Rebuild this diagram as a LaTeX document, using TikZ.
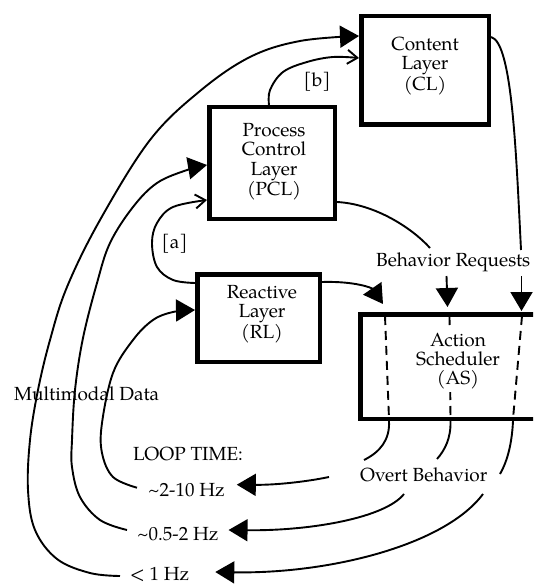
\documentclass[tikz,border=0pt]{standalone}
\usepackage{fontspec}
\setmainfont{TeX Gyre Pagella}
\usetikzlibrary{arrows.meta,calc}
\newcommand{\diagfont}{\fontsize{19}{19.3}\selectfont}
\begin{document}
\begin{tikzpicture}[x=1pt,y=-1pt,
  layer/.style={draw,line width=4.5pt,inner sep=0pt},
  blocktext/.style={inner sep=0pt,font=\diagfont,align=center},
  lbl/.style={inner sep=0pt,font=\diagfont},
  wire/.style={line width=1.9pt},
  big/.style={wire,-{Triangle[length=19pt,width=22pt]}},
  barb/.style={wire,-{Straight Barb[length=10pt,width=14pt]}},
  through/.style={wire,dash pattern=on 9pt off 6pt},
]
\useasboundingbox (0,0) rectangle (533,585);
\fill[white] (0,0) rectangle (533,585);
\clip (0,0) rectangle (533,585);

% layer boxes
\node[layer,minimum width=127.5pt,minimum height=108.5pt] (CL) at (425,70.5) {};
\node[layer,minimum width=125.5pt,minimum height=111.5pt] (PCL) at (272,163) {};
\node[layer,minimum width=122.5pt,minimum height=87.5pt] (RL) at (258.5,318) {};
\node[layer,minimum width=197.5pt,minimum height=104.5pt] (AS) at (459,366.5) {};

\node[blocktext] (CLt) at (425,66) {Content\\Layer\\(CL)};
\node[blocktext] (PCLt) at (274,162) {Process\\Control\\Layer\\(PCL)};
\node[blocktext] (RLt) at (262,314) {Reactive\\Layer\\(RL)};

% free labels
\node[lbl,anchor=base west] (BR) at (376,266) {Behavior Requests};
\node[lbl,anchor=base west] (MD) at (14,400.7) {Multimodal Data};
\node[lbl,anchor=base west] (LT) at (133,460) {LOOP TIME:};
\node[lbl,anchor=base west] (t1) at (148,496.7) {\textasciitilde2-10 Hz};
\node[lbl,anchor=base west] (t2) at (137,540) {\textasciitilde0.5-2 Hz};
\node[lbl,anchor=base west] (t3) at (130,580) {< 1 Hz};
\node[lbl,anchor=base west] (OB) at (360,481.3) {Overt Behavior};
\node[lbl] (la) at (174.5,243.5) {[a]};
\node[lbl] (lb) at (317,82) {[b]};

% end points of the feedback loops
\coordinate (o1) at ($(t1.base west)+(-11,-9)$);
\coordinate (o2) at ($(t2.base west)+(-10,-10)$);
\coordinate (o3) at ($(t3.base west)+(-10,-4)$);
\coordinate (i1) at ($(t1.base east)+(12,-12)$);
\coordinate (i2) at ($(t2.base east)+(10,-10)$);
\coordinate (i3) at ($(t3.base east)+(26,-8)$);

% sensing loops back into the layers
\draw[big] plot[smooth,tension=0.6] coordinates {(o3) (90,573) (57,559) (35,530) (28,490) (30,440) (38,390) (50,340) (67,287) (100,220) (150,140) (200,91) (250,57) (300,41) ($(CL.north west)+(0,22)$)};
\draw[big] plot[smooth,tension=0.6] coordinates {(o2) (100,520) (80,497) (72,467) (72,440) (75,390) (83,338) (97,283) (110,243) (133,207) (157,183) (187,170) ($(PCL.west)+(0,2)$)};
\draw[big] plot[smooth,tension=0.6] coordinates {(o1) (113,477) (102,453) (102,423) (113,373) (133,340) (153,320) (173,312) ($(RL.north west)+(0,38)$)};

% [a] and [b]
\draw[barb] plot[smooth,tension=0.6] coordinates {($(RL.north west)+(0,11)$) (173,280) (157,267) (152,243) (157,223) (173,207) ($(PCL.south west)+(0,-21)$)};
\draw[barb] plot[smooth,tension=0.6] coordinates {($(PCL.north)+(-3,0)$) (270,90) (283,72) (307,62) (333,57) ($(CL.north west)+(0,44)$)};

% behavior requests
\coordinate (rq1) at (430,248);
\coordinate (rq2) at (521,250);
\draw[wire] ($(CL.north east)+(0,23)$) .. controls (512,42) and (516,150) .. (rq2);
\draw[wire] ($(PCL.south east)+(0,-19)$) .. controls (375,204) and (412,228) .. (rq1);
\draw[big] ($(RL.north east)+(0,10)$) .. controls (355,281) and (372,288) .. (383,304);
\draw[big] (446.5,276) -- (447.5,307);
\draw[big] (521.5,276) -- (521.5,311);

% paths through the scheduler
\draw[through] ($(AS.north west)+(27,4)$) -- ($(AS.south west)+(31,-2)$);
\draw[through] ($(AS.north west)+(91.5,4)$) -- ($(AS.south west)+(92.5,-2)$);
\draw[through] ($(AS.north west)+(164,4)$) -- ($(AS.south west)+(155,-2)$);
\node[blocktext,fill=white,inner sep=3pt] (ASt) at (458,361) {Action\\Scheduler\\(AS)};

% overt behavior
\draw[wire] ($(AS.south west)+(31,0)$) .. controls (390,440) and (380,452) .. (364,460);
\draw[wire] ($(AS.south west)+(92.5,0)$) .. controls (451,438) and (445,450) .. (437,459);
\draw[wire] ($(AS.south west)+(155,0)$) .. controls (512,442) and (508,460) .. (500,474);
\draw[big] (329,477) .. controls (305,482) and (275,485) .. (i1);
\draw[big] (404,494) .. controls (385,518) and (310,531) .. (i2);
\draw[big] (483,494) .. controls (445,545) and (330,574) .. (i3);
\end{tikzpicture}
\end{document}
